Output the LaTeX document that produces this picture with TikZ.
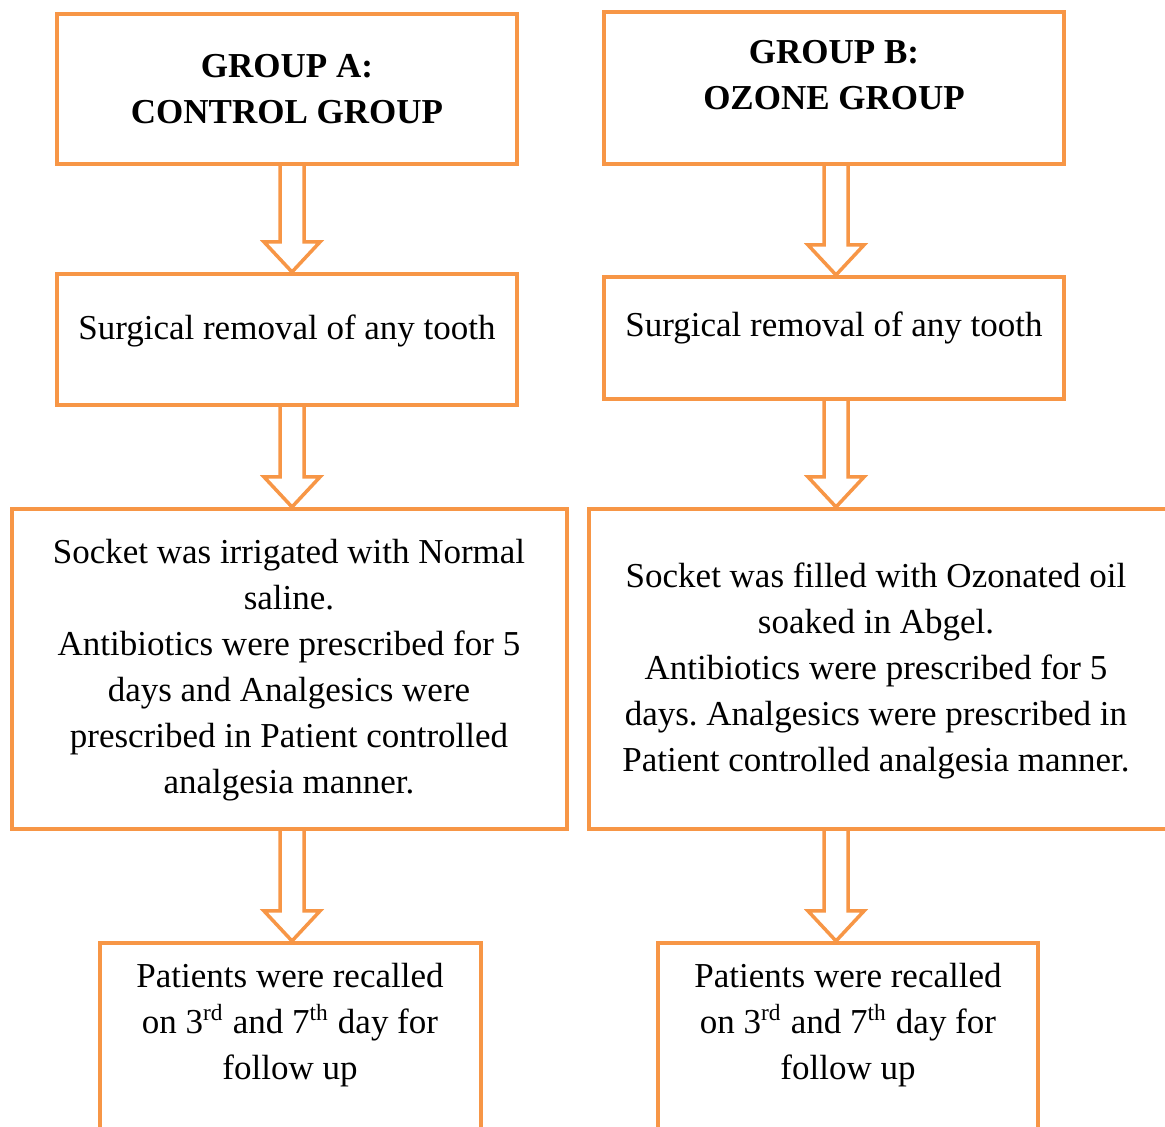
\documentclass[tikz,border=0pt]{standalone}
\usepackage{fontspec}
\setmainfont{Liberation Serif}
\usetikzlibrary{calc}
\definecolor{boxorange}{HTML}{F79646}
\newcommand{\unitpx}{0.3429pt}
\frenchspacing

\begin{document}
\begin{tikzpicture}[
    x=0.3429pt, y=-0.3429pt,
    stage/.style={rectangle, draw=boxorange, line width=1.4pt, fill=white, inner sep=0pt},
    txt/.style={align=center, font=\fontsize{12}{15.8}\selectfont, inner sep=0pt},
    flow/.style={draw=boxorange, line width=1.2pt, fill=white, line join=miter,
        to path={($(\tikztostart)+(-12,0)$) -- ($(\tikztotarget)+(-12,-30)$)
            -- ($(\tikztotarget)+(-28,-30)$) -- (\tikztotarget)
            -- ($(\tikztotarget)+(28,-30)$) -- ($(\tikztotarget)+(12,-30)$)
            -- ($(\tikztostart)+(12,0)$)}}
]
\useasboundingbox (0,0) rectangle (1165,1126);

% group headers
\node[stage, minimum width=460*\unitpx, minimum height=150*\unitpx] (a1) at (287,89) {};
\node[stage, minimum width=460*\unitpx, minimum height=152*\unitpx] (b1) at (834,88) {};
\node[txt, font=\fontsize{12}{15.8}\selectfont\bfseries] (a1txt) at (287,89) {GROUP A:\\CONTROL GROUP};
\node[txt, font=\fontsize{12}{15.8}\selectfont\bfseries] (b1txt) at (834,75.5) {GROUP B:\\OZONE GROUP};

% surgery
\node[stage, minimum width=460*\unitpx, minimum height=131*\unitpx] (a2) at (287,339.5) {};
\node[stage, minimum width=460*\unitpx, minimum height=122*\unitpx] (b2) at (834,338) {};
\node[txt] (a2txt) at (287,330.5) {Surgical removal of any tooth};
\node[txt] (b2txt) at (834,327.5) {Surgical removal of any tooth};

% treatment
\node[stage, minimum width=555*\unitpx, minimum height=320*\unitpx] (a3) at (289.5,669) {};
\node[stage, minimum width=581*\unitpx, minimum height=320*\unitpx] (b3) at (879.5,669) {};
\node[txt] (a3txt) at (289,670) {Socket was irrigated with Normal\\saline.\\Antibiotics were prescribed for 5\\days and Analgesics were\\prescribed in Patient controlled\\analgesia manner.};
\node[txt] (b3txt) at (876,671) {Socket was filled with Ozonated oil\\soaked in Abgel.\\Antibiotics were prescribed for 5\\days. Analgesics were prescribed in\\Patient controlled analgesia manner.};

% follow up
\node[stage, minimum width=381*\unitpx, minimum height=200*\unitpx] (a4) at (290.5,1043) {};
\node[stage, minimum width=380*\unitpx, minimum height=200*\unitpx] (b4) at (848,1043) {};
\node[txt] (a4txt) at (290,1025) {Patients were recalled\\on 3\textsuperscript{rd} and 7\textsuperscript{th} day for\\follow up};
\node[txt] (b4txt) at (848,1025) {Patients were recalled\\on 3\textsuperscript{rd} and 7\textsuperscript{th} day for\\follow up};

% hollow arrows
\coordinate (colA) at (292,0);
\coordinate (colB) at (836,0);
\draw[flow] (a1.south -| colA) to (a2.north -| colA);
\draw[flow] (a2.south -| colA) to (a3.north -| colA);
\draw[flow] (a3.south -| colA) to (a4.north -| colA);
\draw[flow] (b1.south -| colB) to (b2.north -| colB);
\draw[flow] (b2.south -| colB) to (b3.north -| colB);
\draw[flow] (b3.south -| colB) to (b4.north -| colB);

\end{tikzpicture}
\end{document}
